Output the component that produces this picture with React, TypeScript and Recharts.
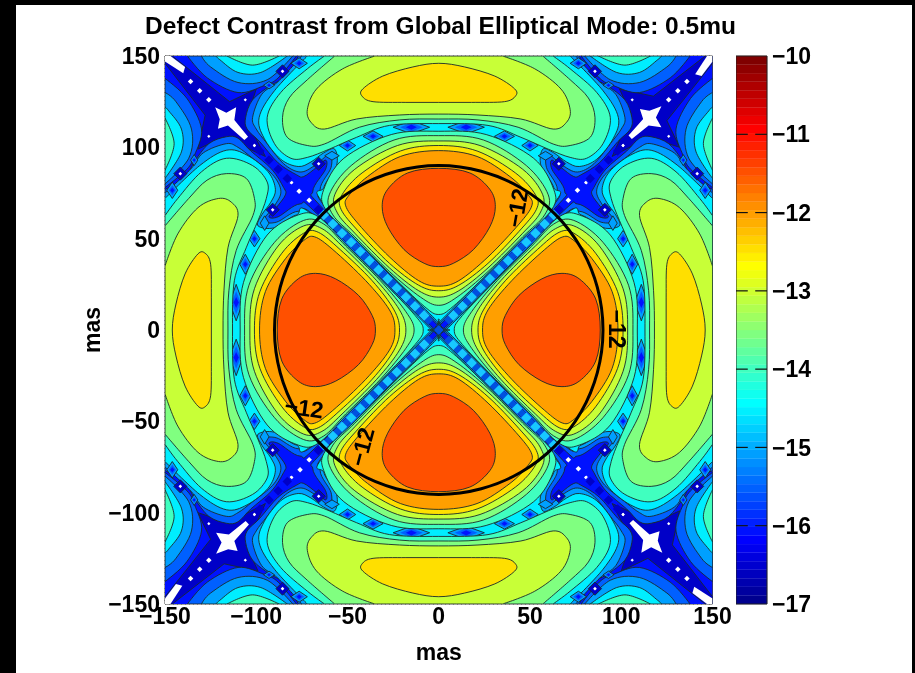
import React from 'react';
import { ScatterChart, Scatter, XAxis, YAxis, CartesianGrid, ReferenceLine, ReferenceArea } from 'recharts';

type Pt = [number, number];

const axisTicks = [-150, -100, -50, 0, 50, 100, 150];
const barTicks = [-17, -16, -15, -14, -13, -12, -11, -10];

const levelColors: Record<string, string> = {
  l155: '#0060ff', l150: '#00a0ff', l145: '#00eeff', l140: '#40ffbf', l135: '#80ff80',
  l130: '#c8ff37', l125: '#ffdf00', l120: '#ff9f00', l115: '#ff5000',
};

const jetColors = [
  '#00008f', '#00009f', '#0000af', '#0000bf', '#0000cf', '#0000df', '#0000ef', '#0000ff',
  '#0010ff', '#0020ff', '#0030ff', '#0040ff', '#0050ff', '#0060ff', '#0070ff', '#0080ff',
  '#008fff', '#009fff', '#00afff', '#00bfff', '#00cfff', '#00dfff', '#00efff', '#00ffff',
  '#10ffef', '#20ffdf', '#30ffcf', '#40ffbf', '#50ffaf', '#60ff9f', '#70ff8f', '#80ff80',
  '#8fff70', '#9fff60', '#afff50', '#bfff40', '#cfff30', '#dfff20', '#efff10', '#ffff00',
  '#ffef00', '#ffdf00', '#ffcf00', '#ffbf00', '#ffaf00', '#ff9f00', '#ff8f00', '#ff8000',
  '#ff7000', '#ff6000', '#ff5000', '#ff4000', '#ff3000', '#ff2000', '#ff1000', '#ff0000',
  '#ef0000', '#df0000', '#cf0000', '#bf0000', '#af0000', '#9f0000', '#8f0000', '#800000',
];

// contour outlines of the north sector, right half
const mega155: Pt[] = [[77, 150], [83, 139], [92, 134], [102, 126], [105.8, 116.4], [105, 110], [98, 103], [88, 91.5], [78, 85], [74, 84], [67, 89], [62, 93], [62, 88], [69, 76], [63, 66], [4, 6], [0, 3]];
const mega150: Pt[] = [[75, 150], [88, 136], [97, 129], [102, 116.4], [100, 110], [94, 102], [85, 91], [76, 86.5], [68, 90], [60, 96], [59, 89], [65, 77], [60, 65], [3.5, 6.5], [0, 4.5]];
const mega145: Pt[] = [[72, 150], [90, 131], [98.4, 116.4], [95.7, 105], [86.6, 93.5], [77, 89.5], [70, 92], [63, 97], [57, 99], [56, 90], [63, 78], [62, 68], [5, 9], [0, 6]];
const outer140: Pt[] = [[62.6, 150], [72, 143], [86.6, 130], [94, 116.4], [90, 102], [81, 94], [72, 94.5], [60, 99], [45, 105.5], [27, 112], [0, 113]];
const outer135: Pt[] = [[57, 150], [72, 137], [82, 127], [85.6, 116.4], [83, 105.5], [72, 101], [62.7, 101.8], [43.5, 111], [21.5, 115], [0, 115.5]];
const outer130: Pt[] = [[35, 150], [52.6, 143], [67, 131.9], [72, 120.7], [70, 113.7], [62.7, 110], [45, 115.5], [21.5, 117.7], [0, 118.2]];
const outer125: Pt[] = [[0, 146], [14.2, 144], [30.7, 139], [41.6, 132], [42, 128], [36, 125], [18, 124.6], [0, 124.6]];
const inner140: Pt[] = [[0, 108.8], [26, 107], [52, 94], [63, 77], [62, 66], [46, 50], [27, 31], [8, 13], [0, 8.5]];
const inner135: Pt[] = [[0, 106.4], [24.5, 104], [48, 90], [60, 74], [58, 63], [46, 51], [27, 32], [10, 18], [0, 13.5]];
const inner130: Pt[] = [[0, 103.5], [22.6, 101], [46, 88], [57, 74], [55.5, 64], [46, 53], [27, 34], [11, 21.5], [0, 18]];
const inner125: Pt[] = [[0, 101], [21, 98], [42, 86], [53, 74], [53.5, 66], [44, 54], [27, 36.5], [11, 24.5], [0, 21.5]];
const inner120: Pt[] = [[0, 98.2], [21, 95], [39, 84], [49, 74], [51, 68], [44, 58], [27, 40], [11, 27], [0, 24]];
const inner115: Pt[] = [[0, 88.5], [17, 86], [28, 77], [31, 67.5], [28, 56.5], [19, 44], [8, 36.5], [0, 34.7]];

// small lobes on the plot edge, one of eight
const edge155: Pt[] = [[78, 150], [88, 138], [95.7, 133.8], [110, 130], [126.8, 138], [137.7, 150]];
const edge150: Pt[] = [[80, 150], [94, 137], [110, 135.5], [125, 144], [130, 150]];
const edge145: Pt[] = [[83, 150], [97.5, 141], [110, 141], [120, 148], [122, 150]];
const edge140: Pt[] = [[87.5, 150], [102, 145], [116, 150]];

// darkest cross round a corner star
const corner165: Pt[] = [[99, 132], [117.6, 128], [146, 150], [150, 150], [150, 146], [125, 114.6], [132, 100], [115, 105.5], [95, 95], [105.5, 118]];
const whiteStar: Pt[] = [[105.8, 104.5], [104, 106.5], [112, 115.5], [110.2, 121], [115.4, 120], [122, 122.5], [119, 116.4], [122, 111], [115, 112]];
const whiteSlash: Pt[] = [[140.5, 140], [144, 139], [150, 147], [150, 150], [147, 150]];

// [x, y, half width, half height]
const ringDiamonds: [number, number, number, number][] = [[15, 111, 10, 3.6], [36, 106, 5.5, 3], [50, 101, 4.5, 3], [76.5, 146, 4.5, 3], [93, 134, 3, 2]];
const ringPatches: [number, number, number, number][] = [[58.5, 95.4, 4, 2.4]];
const stripBright = [8, 13, 18, 23, 28, 33, 38, 43, 48, 53, 58, 63];
const stripDark = [0, 5.5, 10.5, 15.5, 20.5, 25.5, 30.5, 35.5, 40.5, 45.5, 50.5, 55.5, 60.5];
const bandDark = [66, 83, 88, 93, 98, 103];
const diagDots: [number, number][] = [[126, 126], [131, 131], [136, 136], [71, 71], [76, 76.5]];
const smallDots: [number, number][] = [[80.5, 80.8], [101, 101], [106, 126]];
const haloDots: [number, number][] = [[65.8, 91], [85.6, 141.6]];

const circlePts: Pt[] = [[90, 0], [86.9, 23.3], [77.9, 45], [63.6, 63.6], [45, 77.9], [23.3, 86.9], [0, 90], [-23.3, 86.9], [-45, 77.9], [-63.6, 63.6], [-77.9, 45], [-86.9, 23.3], [-90, 0], [-86.9, -23.3], [-77.9, -45], [-63.6, -63.6], [-45, -77.9], [-23.3, -86.9], [0, -90], [23.3, -86.9], [45, -77.9], [63.6, -63.6], [77.9, -45], [86.9, -23.3]];
const contourLabels = [
  { x: 43, y: 66.8, angle: -80 },
  { x: 97.7, y: 0.5, angle: 90 },
  { x: -73.8, y: -42.7, angle: 8 },
  { x: -42, y: -64, angle: -75 },
];

const PL = 165, PR = 712.5, PT = 56, PB = 604;
const clampX = (v: number) => Math.min(PR, Math.max(PL, v));
const clampY = (v: number) => Math.min(PB, Math.max(PT, v));
const onEdge = (p: any) => Math.abs(p.x - PL) < 0.6 || Math.abs(p.x - PR) < 0.6 || Math.abs(p.y - PT) < 0.6 || Math.abs(p.y - PB) < 0.6;

function pathOf(pts: any[], smooth: boolean) {
  let d = `M${pts[0].x},${pts[0].y}`;
  const n = pts.length;
  for (let i = 0; i < n; i++) {
    const p0 = pts[(i - 1 + n) % n], p1 = pts[i], p2 = pts[(i + 1) % n], p3 = pts[(i + 2) % n];
    if (!smooth) { d += `L${p2.x},${p2.y}`; continue; }
    const c1 = onEdge(p1) ? p1 : { x: clampX(p1.x + (p2.x - p0.x) / 6), y: clampY(p1.y + (p2.y - p0.y) / 6) };
    const c2 = onEdge(p2) ? p2 : { x: clampX(p2.x - (p3.x - p1.x) / 6), y: clampY(p2.y - (p3.y - p1.y) / 6) };
    d += `C${c1.x},${c1.y} ${c2.x},${c2.y} ${p2.x},${p2.y}`;
  }
  return d + 'Z';
}

type Layer = { pts: Pt[]; fill: string; stroke: string; width: number; smooth: boolean };
const layers: Layer[] = [];
const LINE = '#1a2a2a';
const add = (pts: Pt[], fill: string, smooth = true, stroke = LINE, width = 0.9) => layers.push({ pts, fill, stroke, width, smooth });

const mirrorRight = (half: Pt[]): Pt[] => [...half, ...half.filter((p) => p[0] !== 0).slice().reverse().map(([x, y]) => [-x, y] as Pt)];
const rotations = (p: Pt[]): Pt[][] => [p, p.map(([x, y]) => [y, -x] as Pt), p.map(([x, y]) => [-x, -y] as Pt), p.map(([x, y]) => [-y, x] as Pt)];
const sector = (half: Pt[], fill: string) => rotations(mirrorRight(half)).forEach((p) => add(p, fill));
const eightfold = (p: Pt[]): Pt[][] => [
  p, p.map(([x, y]) => [-x, y] as Pt), p.map(([x, y]) => [x, -y] as Pt), p.map(([x, y]) => [-x, -y] as Pt),
  p.map(([x, y]) => [y, x] as Pt), p.map(([x, y]) => [-y, x] as Pt), p.map(([x, y]) => [y, -x] as Pt), p.map(([x, y]) => [-y, -x] as Pt),
];
const edgeLobes = (p: Pt[], fill: string) => eightfold(p).forEach((q) => add(q, fill));
const diamond = (x: number, y: number, hw: number, hh: number): Pt[] => [[x + hw, y], [x, y - hh], [x - hw, y], [x, y + hh]];

add([[-150, -150], [-150, 150], [150, 150], [150, -150]], '#0012ff', false, 'none', 0);
rotations(corner165).forEach((p) => add(p, '#0000c8', false));

sector(mega155, levelColors.l155);
edgeLobes(edge155, levelColors.l155);
sector(mega150, levelColors.l150);
edgeLobes(edge150, levelColors.l150);
sector(mega145, levelColors.l145);
edgeLobes(edge145, levelColors.l145);

ringDiamonds.forEach(([x, y, hw, hh]) => {
  eightfold(diamond(x, y, hw, hh)).forEach((q) => add(q, levelColors.l150, false));
  eightfold(diamond(x, y, hw * 0.62, hh * 0.68)).forEach((q) => add(q, levelColors.l155, false, 'none', 0));
  eightfold(diamond(x, y, hw * 0.3, hh * 0.4)).forEach((q) => add(q, '#0012ff', false, 'none', 0));
});
ringPatches.forEach(([x, y, hw, hh]) => eightfold(diamond(x, y, hw, hh)).forEach((q) => add(q, levelColors.l150, false)));

[outer140, inner140].forEach((h) => sector(h, levelColors.l140));
edgeLobes(edge140, levelColors.l140);
[outer135, inner135].forEach((h) => sector(h, levelColors.l135));
[outer130, inner130].forEach((h) => sector(h, levelColors.l130));
[outer125, inner125].forEach((h) => sector(h, levelColors.l125));
sector(inner120, levelColors.l120);
sector(inner115, levelColors.l115);

const arms = (d: number): Pt[] => [[d, d], [-d, d], [-d, -d], [d, -d]];
stripDark.forEach((d) => arms(d).forEach(([x, y]) => add(diamond(x, y, 2.4, 2.4), '#0050e0', false, 'none', 0)));
stripBright.forEach((d) => arms(d).forEach(([x, y]) => add(diamond(x, y, 2.9, 2.9), '#18c8ff', false, 'none', 0)));
bandDark.forEach((d) => arms(d).forEach(([x, y]) => add(diamond(x, y, 2.6, 2.6), '#0000c8', false, 'none', 0)));
haloDots.forEach(([x, y]) => eightfold(diamond(x, y, 3.6, 3.6)).forEach((q) => add(q, '#0000c8', false)));
rotations(whiteStar).forEach((p) => add(p, '#ffffff', false, 'none', 0));
rotations(whiteSlash).forEach((p) => add(p, '#ffffff', false, 'none', 0));
diagDots.forEach(([x, y]) => rotations(diamond(x, y, 1.5, 1.5)).forEach((q) => add(q, '#ffffff', false, 'none', 0)));
smallDots.forEach(([x, y]) => eightfold(diamond(x, y, 0.9, 0.9)).forEach((q) => add(q, '#ffffff', false, 'none', 0)));
haloDots.forEach(([x, y]) => eightfold(diamond(x, y, 1, 1)).forEach((q) => add(q, '#ffffff', false, 'none', 0)));

const FONT = '"Liberation Sans", Arial, sans-serif';
const AXIS_TEXT = { fontFamily: FONT, fontWeight: 700, fontSize: 23, fill: '#000' };
const fmt = (v: number) => String(v).replace('-', '\u2212');
const noMark = () => <g />;
const SOFT = 'blur(0.45px)';

function polygonSeries(layer: Layer, index: number) {
  const data = layer.pts.map(([x, y]) => ({ x, y }));
  return (
    <Scatter
      key={index}
      data={data}
      isAnimationActive={false}
      shape={noMark}
      line={(p: any) => <path d={pathOf(p.points, layer.smooth)} fill={layer.fill} stroke={layer.stroke} strokeWidth={layer.width} />}
    />
  );
}

const tickLen = 4;
const plotTicks = axisTicks.slice(1, -1);
const barFrame = [{ x: 0, y: -17 }, { x: 1, y: -10 }];

export default function App() {
  return (
    <div style={{ position: 'fixed', left: 0, top: 0, width: 915, height: 673, background: '#000', overflow: 'hidden' }}>
      <div style={{ position: 'absolute', left: 16, top: 5, width: 896, height: 668, background: '#fff' }} />
      <div style={{ position: 'absolute', left: 0, top: 12, width: 881, textAlign: 'center', fontFamily: FONT, fontWeight: 700, fontSize: 24.5, color: '#000', whiteSpace: 'nowrap', filter: SOFT }}>
        Defect Contrast from Global Elliptical Mode: 0.5mu
      </div>
      <div style={{ position: 'absolute', left: 0, top: 0, filter: SOFT }}>
        <ScatterChart width={915} height={673} margin={{ left: 105, top: 56, right: 202.5, bottom: 13 }}>
          <XAxis type="number" dataKey="x" domain={[-150, 150]} ticks={axisTicks} interval={0} allowDataOverflow axisLine={false} tickLine={false} tickSize={0} tickMargin={4} height={56}
            tick={AXIS_TEXT} tickFormatter={fmt}
            label={{ value: 'mas', position: 'insideBottom', offset: 0, style: AXIS_TEXT }} />
          <YAxis type="number" dataKey="y" domain={[-150, 150]} ticks={axisTicks} interval={0} allowDataOverflow axisLine={false} tickLine={false} tickSize={0} tickMargin={5} width={60}
            tick={AXIS_TEXT} tickFormatter={fmt} />
          {layers.map((layer, i) => polygonSeries(layer, i))}
          <CartesianGrid stroke="#333" strokeDasharray="1 3" strokeWidth={0.8} />
          {plotTicks.flatMap((t) => [
            <ReferenceLine key={`b${t}`} segment={[{ x: t, y: -150 }, { x: t, y: -150 + tickLen }]} stroke="#111" strokeWidth={1.2} />,
            <ReferenceLine key={`t${t}`} segment={[{ x: t, y: 150 }, { x: t, y: 150 - tickLen }]} stroke="#111" strokeWidth={1.2} />,
            <ReferenceLine key={`l${t}`} segment={[{ x: -150, y: t }, { x: -150 + tickLen, y: t }]} stroke="#111" strokeWidth={1.2} />,
            <ReferenceLine key={`r${t}`} segment={[{ x: 150, y: t }, { x: 150 - tickLen, y: t }]} stroke="#111" strokeWidth={1.2} />,
          ])}
          <ReferenceArea x1={-150} x2={150} y1={-150} y2={150} fill="none" stroke="#444" strokeWidth={1} fillOpacity={0} />
          <Scatter data={circlePts.map(([x, y]) => ({ x, y }))} isAnimationActive={false} shape={noMark}
            line={(p: any) => <path d={pathOf(p.points, true)} fill="none" stroke="#000" strokeWidth={3} />} />
          {contourLabels.map((c, i) => (
            <Scatter key={`lab${i}`} data={[{ x: c.x, y: c.y }]} isAnimationActive={false}
              shape={(p: any) => (
                <text x={p.cx} y={p.cy} transform={`rotate(${c.angle} ${p.cx} ${p.cy})`} textAnchor="middle" dominantBaseline="central" fontFamily={FONT} fontWeight={700} fontSize={23} fill="#000">−12</text>
              )} />
          ))}
          <text x={92} y={330} transform="rotate(-90 92 330)" textAnchor="middle" dominantBaseline="central" fontFamily={FONT} fontWeight={700} fontSize={23} fill="#000">mas</text>
        </ScatterChart>
      </div>
      <div style={{ position: 'absolute', left: 736, top: 0, filter: SOFT }}>
        <ScatterChart width={179} height={673} margin={{ left: 0, top: 56, right: 88, bottom: 69 }}>
          <XAxis type="number" dataKey="x" domain={[0, 1]} hide />
          <YAxis type="number" dataKey="y" orientation="right" domain={[-17, -10]} ticks={barTicks} interval={0} allowDataOverflow axisLine={false} tickLine={false} tickSize={0} tickMargin={5} width={60}
            tick={AXIS_TEXT} tickFormatter={fmt} />
          <Scatter data={barFrame} isAnimationActive={false} shape={noMark} />
          {jetColors.map((c, i) => (
            <ReferenceArea key={c + i} x1={0} x2={1} y1={-17 + (i * 7) / 64} y2={-17 + ((i + 1) * 7) / 64} fill={c} fillOpacity={1} stroke={c} strokeWidth={0.3} />
          ))}
          {barTicks.slice(1, -1).flatMap((t) => [
            <ReferenceLine key={`a${t}`} segment={[{ x: 0, y: t }, { x: 0.38, y: t }]} stroke="#111" strokeWidth={1.2} />,
            <ReferenceLine key={`c${t}`} segment={[{ x: 0.62, y: t }, { x: 1, y: t }]} stroke="#111" strokeWidth={1.2} />,
          ])}
          <ReferenceArea x1={0} x2={1} y1={-17} y2={-10} fill="none" fillOpacity={0} stroke="#222" strokeWidth={1} />
        </ScatterChart>
      </div>
    </div>
  );
}
